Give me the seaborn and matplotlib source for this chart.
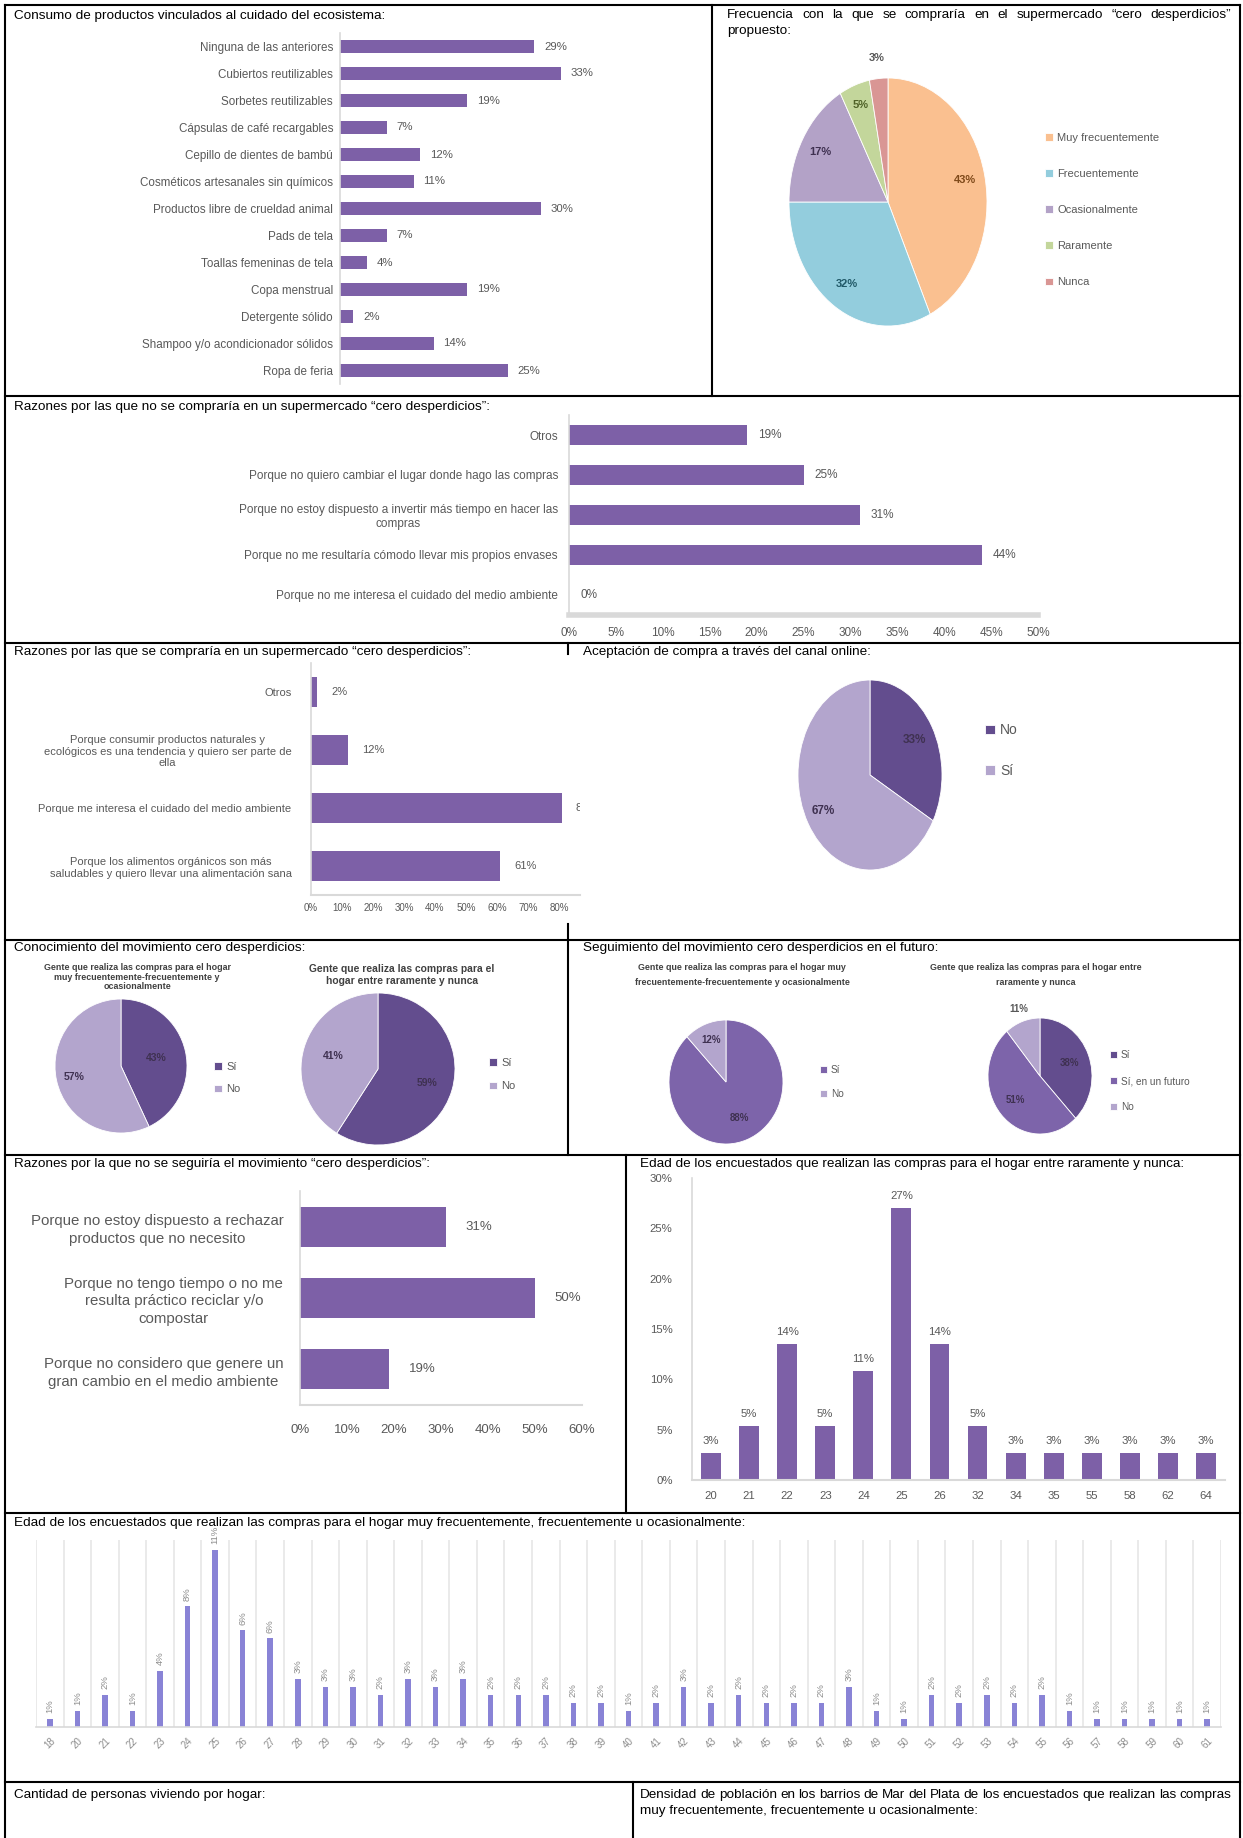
import numpy as np
import matplotlib
matplotlib.use("Agg")
import matplotlib.pyplot as plt
import seaborn as sns
from matplotlib.lines import Line2D
from matplotlib import font_manager as fm

W, H = 1243, 1838

# ---------------- DATA ----------------
consumo_cats = ["Ninguna de las anteriores", "Cubiertos reutilizables", "Sorbetes reutilizables",
                "Cápsulas de café recargables", "Cepillo de dientes de bambú",
                "Cosméticos artesanales sin químicos", "Productos libre de crueldad animal",
                "Pads de tela", "Toallas femeninas de tela", "Copa menstrual", "Detergente sólido",
                "Shampoo y/o acondicionador sólidos", "Ropa de feria"]
consumo_vals = [29, 33, 19, 7, 12, 11, 30, 7, 4, 19, 2, 14, 25]

frec_cats = ["Muy frecuentemente", "Frecuentemente", "Ocasionalmente", "Raramente", "Nunca"]
frec_vals = [43, 32, 17, 5, 3]

no_compra_cats = ["Otros",
                  "Porque no quiero cambiar el lugar donde hago las compras",
                  "Porque no estoy dispuesto a invertir más tiempo en hacer las\ncompras",
                  "Porque no me resultaría cómodo llevar mis propios envases",
                  "Porque no me interesa el cuidado del medio ambiente"]
no_compra_vals = [19, 25, 31, 44, 0]
no_compra_ticks = [0, 5, 10, 15, 20, 25, 30, 35, 40, 45, 50]

si_compra_cats = ["Otros",
                  "Porque consumir productos naturales y\necológicos es una tendencia y quiero ser parte de\nella",
                  "Porque me interesa el cuidado del medio ambiente",
                  "Porque los alimentos orgánicos son más\nsaludables y quiero llevar una alimentación sana"]
si_compra_vals = [2, 12, 81, 61]
si_compra_ticks = [0, 10, 20, 30, 40, 50, 60, 70, 80]

online_cats = ["No", "Sí"]
online_vals = [33, 67]

conoc_cats = ["Sí", "No"]
conoc_frec_vals = [43, 57]
conoc_rar_vals = [59, 41]

seg_frec_cats = ["Sí", "No"]
seg_frec_vals = [88, 12]
seg_rar_cats = ["Sí", "Sí, en un futuro", "No"]
seg_rar_vals = [38, 51, 11]

no_seguir_cats = ["Porque no estoy dispuesto a rechazar\nproductos que no necesito",
                  "Porque no tengo tiempo o no me\nresulta práctico reciclar y/o\ncompostar",
                  "Porque no considero que genere un\ngran cambio en el medio ambiente"]
no_seguir_vals = [31, 50, 19]
no_seguir_ticks = [0, 10, 20, 30, 40, 50, 60]

edad_rar_ages = ["20", "21", "22", "23", "24", "25", "26", "32", "34", "35", "55", "58", "62", "64"]
edad_rar_vals = [2.7, 5.4, 13.5, 5.4, 10.8, 27.0, 13.5, 5.4, 2.7, 2.7, 2.7, 2.7, 2.7, 2.7]
edad_rar_ticks = [0, 5, 10, 15, 20, 25, 30]

edad_frec_ages = ["18", "20", "21", "22", "23", "24", "25", "26", "27", "28", "29", "30", "31",
                  "32", "33", "34", "35", "36", "37", "38", "39", "40", "41", "42", "43", "44",
                  "45", "46", "47", "48", "49", "50", "51", "52", "53", "54", "55", "56", "57",
                  "58", "59", "60", "61"]
edad_frec_vals = [0.5, 1, 2, 1, 3.5, 7.5, 11, 6, 5.5, 3, 2.5, 2.5, 2, 3, 2.5, 3, 2, 2, 2, 1.5, 1.5, 1,
                  1.5, 2.5, 1.5, 2, 1.5, 1.5, 1.5, 2.5, 1, 0.5, 2, 1.5, 2, 1.5, 2, 1, 0.5, 0.5, 0.5,
                  0.5, 0.5]

# ---------------- STYLE ----------------
names = {f.name for f in fm.fontManager.ttflist}
BASE = "Liberation Sans" if "Liberation Sans" in names else "DejaVu Sans"
plt.rcParams["font.family"] = [BASE, "DejaVu Sans"]

PURPLE = "#7D60A7"
DARK = "#634D8E"
MED = "#7D64AA"
LIGHT = "#B3A5CD"
GRAY = "#595959"
AXGRAY = "#D9D9D9"
LBL = "#3F3151"
TFS = 9.7

fig = plt.figure(figsize=(W / 100, H / 100), dpi=100)
fig.patch.set_facecolor("white")
renderer = fig.canvas.get_renderer()


def axpx(x0, y0, x1, y1):
    return fig.add_axes([x0 / W, 1 - y1 / H, (x1 - x0) / W, (y1 - y0) / H])


def ftext(x, y, s, **kw):
    kw.setdefault("va", "center")
    kw.setdefault("ha", "left")
    return fig.text(x / W, 1 - y / H, s, **kw)


def title(x, y, s):
    return ftext(x, y, s, fontsize=TFS, color="black")


def justify(line, x0, x1, y):
    words = line.split(" ")
    ts = [ftext(0, y, w, fontsize=TFS) for w in words]
    widths = [t.get_window_extent(renderer).width for t in ts]
    gap = (x1 - x0 - sum(widths)) / (len(words) - 1)
    x = x0
    for t, w in zip(ts, widths):
        t.set_position((x / W, 1 - y / H))
        x += w + gap


def style(ax, left=True, bottom=True, lwl=1.2, lwb=1.2):
    for s in ["top", "right"]:
        ax.spines[s].set_visible(False)
    ax.spines["left"].set_visible(left)
    ax.spines["bottom"].set_visible(bottom)
    ax.spines["left"].set_color(AXGRAY)
    ax.spines["bottom"].set_color(AXGRAY)
    ax.spines["left"].set_linewidth(lwl)
    ax.spines["bottom"].set_linewidth(lwb)
    ax.set_xlabel("")
    ax.set_ylabel("")
    ax.patch.set_alpha(0)


def legend_px(handles, labels, x, y_first, y_last, fs):
    n = len(labels)
    fs_px = fs * 100 / 72
    spacing = (y_last - y_first) / (n - 1)
    ls = max((spacing - 1.2 * fs_px) / fs_px, 0)
    yc = (y_first + y_last) / 2
    fig.legend(handles, labels, loc="center left", bbox_to_anchor=(x / W, 1 - yc / H),
               frameon=False, fontsize=fs, handlelength=0.7, handleheight=0.7,
               handletextpad=0.4, labelspacing=ls, borderpad=0, borderaxespad=0,
               labelcolor=GRAY)


def pie(cx, cy, rx, ry, vals, colors, radii, tcolors, fs, labels=None):
    ax = axpx(cx - 1.25 * rx, cy - 1.25 * ry, cx + 1.25 * rx, cy + 1.25 * ry)
    wedges, _ = ax.pie(vals, colors=colors, startangle=90, counterclock=False,
                       wedgeprops=dict(linewidth=0.6, edgecolor="white"))
    ax.set_aspect("auto")
    ax.set_xlim(-1.25, 1.25)
    ax.set_ylim(-1.25, 1.25)
    if labels is None:
        labels = [f"{v}%" for v in vals]
    for w, t, r, c in zip(wedges, labels, radii, tcolors):
        a = np.deg2rad((w.theta1 + w.theta2) / 2)
        ax.text(r * np.cos(a), r * np.sin(a), t, ha="center", va="center",
                fontsize=fs, color=c, fontweight="bold")
    return ax, wedges


# ---------------- BORDERS ----------------
def hline(y, x0=5, x1=1240, lw=1.5):
    fig.add_artist(Line2D([x0 / W, x1 / W], [1 - y / H, 1 - y / H], color="black", lw=lw))


def vline(x, y0, y1, lw=1.5):
    fig.add_artist(Line2D([x / W, x / W], [1 - y0 / H, 1 - y1 / H], color="black", lw=lw))


for yy in [5, 396, 643, 940, 1155, 1513, 1782]:
    hline(yy)
vline(5, 5, 1838)
vline(1240, 5, 1838)
vline(712, 5, 396)
vline(568, 643, 654)
vline(568, 924, 940)
vline(568, 940, 1155)
vline(626, 1155, 1513)
vline(633, 1782, 1838)

# ---------------- PANEL A: consumo ----------------
title(14, 16, "Consumo de productos vinculados al cuidado del ecosistema:")
ax = axpx(340, 33, 340 + 6.7 * 50, 384)
sns.barplot(x=consumo_vals, y=consumo_cats, orient="h", color=PURPLE, width=0.5,
            saturation=1, errorbar=None, ax=ax)
ax.set_xlim(0, 50)
ax.set_ylim(len(consumo_cats) - 0.5, -0.5)
style(ax, left=True, bottom=False)
ax.set_xticks([])
ax.tick_params(axis="y", length=0, pad=5, labelsize=8.4, labelcolor=GRAY)
ax.bar_label(ax.containers[0], labels=[f"{v}%" for v in consumo_vals], padding=7,
             fontsize=8.2, color=GRAY)

# ---------------- PANEL B: frecuencia pie ----------------
justify("Frecuencia con la que se compraría en el supermercado “cero desperdicios”", 727, 1231, 15)
title(727, 31, "propuesto:")
axb, wb = pie(888, 202, 99, 124, frec_vals,
              ["#FAC090", "#93CDDD", "#B3A2C7", "#C3D69B", "#D99694"],
              [0.8, 0.78, 0.8, 0.83, 1.17],
              ["#7F4A1A", "#215968", "#3F3151", "#4F6228", "#595959"], 8)
legend_px(wb, frec_cats, 1045, 131, 289, 8)

# ---------------- PANEL C: no compraría ----------------
title(14, 407, "Razones por las que no se compraría en un supermercado “cero desperdicios”:")
ax = axpx(569, 415, 569 + 9.38 * 50, 615)
sns.barplot(x=no_compra_vals, y=no_compra_cats, orient="h", color=PURPLE, width=0.5,
            saturation=1, errorbar=None, ax=ax)
ax.set_xlim(0, 50)
ax.set_ylim(len(no_compra_cats) - 0.5, -0.5)
style(ax, lwl=1.2, lwb=4)
ax.set_xticks(no_compra_ticks)
ax.set_xticklabels([f"{t}%" for t in no_compra_ticks])
ax.tick_params(axis="both", length=0, labelsize=8.5, labelcolor=GRAY)
ax.tick_params(axis="x", pad=9)
ax.tick_params(axis="y", pad=8)
for t in ax.get_yticklabels():
    t.set_multialignment("center")
ax.bar_label(ax.containers[0], labels=[f"{v}%" for v in no_compra_vals], padding=8,
             fontsize=8.5, color=GRAY)

# ---------------- PANEL D: se compraría ----------------
title(14, 652, "Razones por las que se compraría en un supermercado “cero desperdicios”:")
ax = axpx(311, 663, 580, 895)
sns.barplot(x=si_compra_vals, y=si_compra_cats, orient="h", color=PURPLE, width=0.52,
            saturation=1, errorbar=None, ax=ax)
ax.set_xlim(0, (580 - 311) / 3.1)
ax.set_ylim(len(si_compra_cats) - 0.5, -0.5)
style(ax, lwl=1.2, lwb=1.5)
ax.set_xticks(si_compra_ticks)
ax.set_xticklabels([f"{t}%" for t in si_compra_ticks])
ax.tick_params(axis="both", length=0, labelcolor=GRAY)
ax.tick_params(axis="x", pad=6, labelsize=7)
ax.tick_params(axis="y", pad=14, labelsize=8)
for t in ax.get_yticklabels():
    t.set_multialignment("center")
ax.bar_label(ax.containers[0], labels=[f"{v}%" for v in si_compra_vals], padding=10,
             fontsize=8, color=GRAY, clip_on=True)

# ---------------- PANEL E: online pie ----------------
title(583, 652, "Aceptación de compra a través del canal online:")
axe, we = pie(870, 775, 72, 95, online_vals, [DARK, LIGHT], [0.72, 0.75], [LBL, LBL], 8.5)
legend_px(we, online_cats, 985, 729, 772, 10)

# ---------------- PANEL F: conocimiento ----------------
title(14, 948, "Conocimiento del movimiento cero desperdicios:")
ftext(137, 977, "Gente que realiza las compras para el hogar\nmuy frecuentemente-frecuentemente y\nocasionalmente",
      ha="center", fontsize=6.4, fontweight="bold", color="#404040", linespacing=1.1)
ftext(402, 975, "Gente que realiza las compras para el\nhogar entre raramente y nunca",
      ha="center", fontsize=7.4, fontweight="bold", color="#404040", linespacing=1.3)
axf1, wf1 = pie(121, 1066, 66, 67, conoc_frec_vals, [DARK, LIGHT], [0.55, 0.72], [LBL, LBL], 7.5)
legend_px(wf1, conoc_cats, 214, 1065, 1091, 8)
axf2, wf2 = pie(378, 1069, 77, 76, conoc_rar_vals, [DARK, LIGHT], [0.66, 0.6], [LBL, LBL], 7.5)
legend_px(wf2, conoc_cats, 489, 1061, 1088, 8)

# ---------------- PANEL G: seguimiento ----------------
title(583, 948, "Seguimiento del movimiento cero desperdicios en el futuro:")
ftext(742, 975, "Gente que realiza las compras para el hogar muy\nfrecuentemente-frecuentemente y ocasionalmente",
      ha="center", fontsize=6.4, fontweight="bold", color="#404040", linespacing=1.8)
ftext(1036, 975, "Gente que realiza las compras para el hogar entre\nraramente y nunca",
      ha="center", fontsize=6.4, fontweight="bold", color="#404040", linespacing=1.8)
axg1, wg1 = pie(726, 1082, 57, 62, seg_frec_vals, [MED, LIGHT], [0.62, 0.72], [LBL, LBL], 7)
legend_px(wg1, seg_frec_cats, 820, 1069, 1095, 7.2)
axg2, wg2 = pie(1040, 1076, 52, 58, seg_rar_vals, [DARK, MED, LIGHT], [0.6, 0.62, 1.22],
                [LBL, LBL, GRAY], 7)
legend_px(wg2, seg_rar_cats, 1110, 1053, 1109, 7.2)

# ---------------- PANEL H: no seguiría ----------------
title(14, 1164, "Razones por la que no se seguiría el movimiento “cero desperdicios”:")
ax = axpx(300, 1191, 300 + 4.7 * 60, 1405)
sns.barplot(x=no_seguir_vals, y=no_seguir_cats, orient="h", color=PURPLE, width=0.56,
            saturation=1, errorbar=None, ax=ax)
ax.set_xlim(0, 60)
ax.set_ylim(len(no_seguir_cats) - 0.5, -0.5)
style(ax, lwl=1.2, lwb=1.5)
ax.set_xticks(no_seguir_ticks)
ax.set_xticklabels([f"{t}%" for t in no_seguir_ticks])
ax.tick_params(axis="both", length=0, labelcolor=GRAY)
ax.tick_params(axis="x", pad=14, labelsize=9.5)
ax.tick_params(axis="y", pad=12, labelsize=10.8)
for t in ax.get_yticklabels():
    t.set_multialignment("center")
    t.set_linespacing(1.35)
ax.bar_label(ax.containers[0], labels=[f"{v}%" for v in no_seguir_vals], padding=14,
             fontsize=9.5, color=GRAY)

# ---------------- PANEL I: edad raramente ----------------
title(640, 1164, "Edad de los encuestados que realizan las compras para el hogar entre raramente y nunca:")
ax = axpx(692, 1178, 1225, 1480)
sns.barplot(x=edad_rar_ages, y=edad_rar_vals, color=PURPLE, width=0.52, saturation=1,
            errorbar=None, ax=ax)
ax.set_ylim(0, 30)
ax.set_xlim(-0.5, len(edad_rar_ages) - 0.5)
style(ax, lwl=1.2, lwb=1.5)
ax.set_yticks(edad_rar_ticks)
ax.set_yticklabels([f"{t}%" for t in edad_rar_ticks])
ax.tick_params(axis="both", length=0, labelsize=8.2, labelcolor=GRAY)
ax.tick_params(axis="y", pad=14)
ax.tick_params(axis="x", pad=8)
ax.bar_label(ax.containers[0], labels=[f"{int(np.floor(v + 0.5))}%" for v in edad_rar_vals],
             padding=5, fontsize=8.2, color=GRAY)

# ---------------- PANEL J: edad frecuentes ----------------
title(14, 1523, "Edad de los encuestados que realizan las compras para el hogar muy frecuentemente, frecuentemente u ocasionalmente:")
ax = axpx(36, 1540, 1221, 1727)
sns.barplot(x=edad_frec_ages, y=edad_frec_vals, color="#8983D6", width=0.2, saturation=1,
            errorbar=None, ax=ax)
ax.set_ylim(0, 11.6)
ax.set_xlim(-0.5, len(edad_frec_ages) - 0.5)
style(ax, left=False, bottom=True, lwb=1.2)
ax.set_yticks([])
ax.set_xticks(np.arange(-0.5, len(edad_frec_ages), 1), minor=True)
ax.grid(which="minor", axis="x", color="#E8E8E8", lw=1.3)
ax.tick_params(axis="x", which="both", length=0, labelsize=7, labelcolor="#8C8C8C",
               pad=6, labelrotation=45)
ax.bar_label(ax.containers[0], labels=[f"{int(np.floor(v + 0.5))}%" for v in edad_frec_vals],
             padding=4, fontsize=6.8, color="#8C8C8C", rotation=90)

# ---------------- ROW 7 ----------------
title(14, 1795, "Cantidad de personas viviendo por hogar:")
justify("Densidad de población en los barrios de Mar del Plata de los encuestados que realizan las compras",
        640, 1231, 1795)
title(640, 1811, "muy frecuentemente, frecuentemente u ocasionalmente:")

fig.savefig("out.png", dpi=100, facecolor="white")
